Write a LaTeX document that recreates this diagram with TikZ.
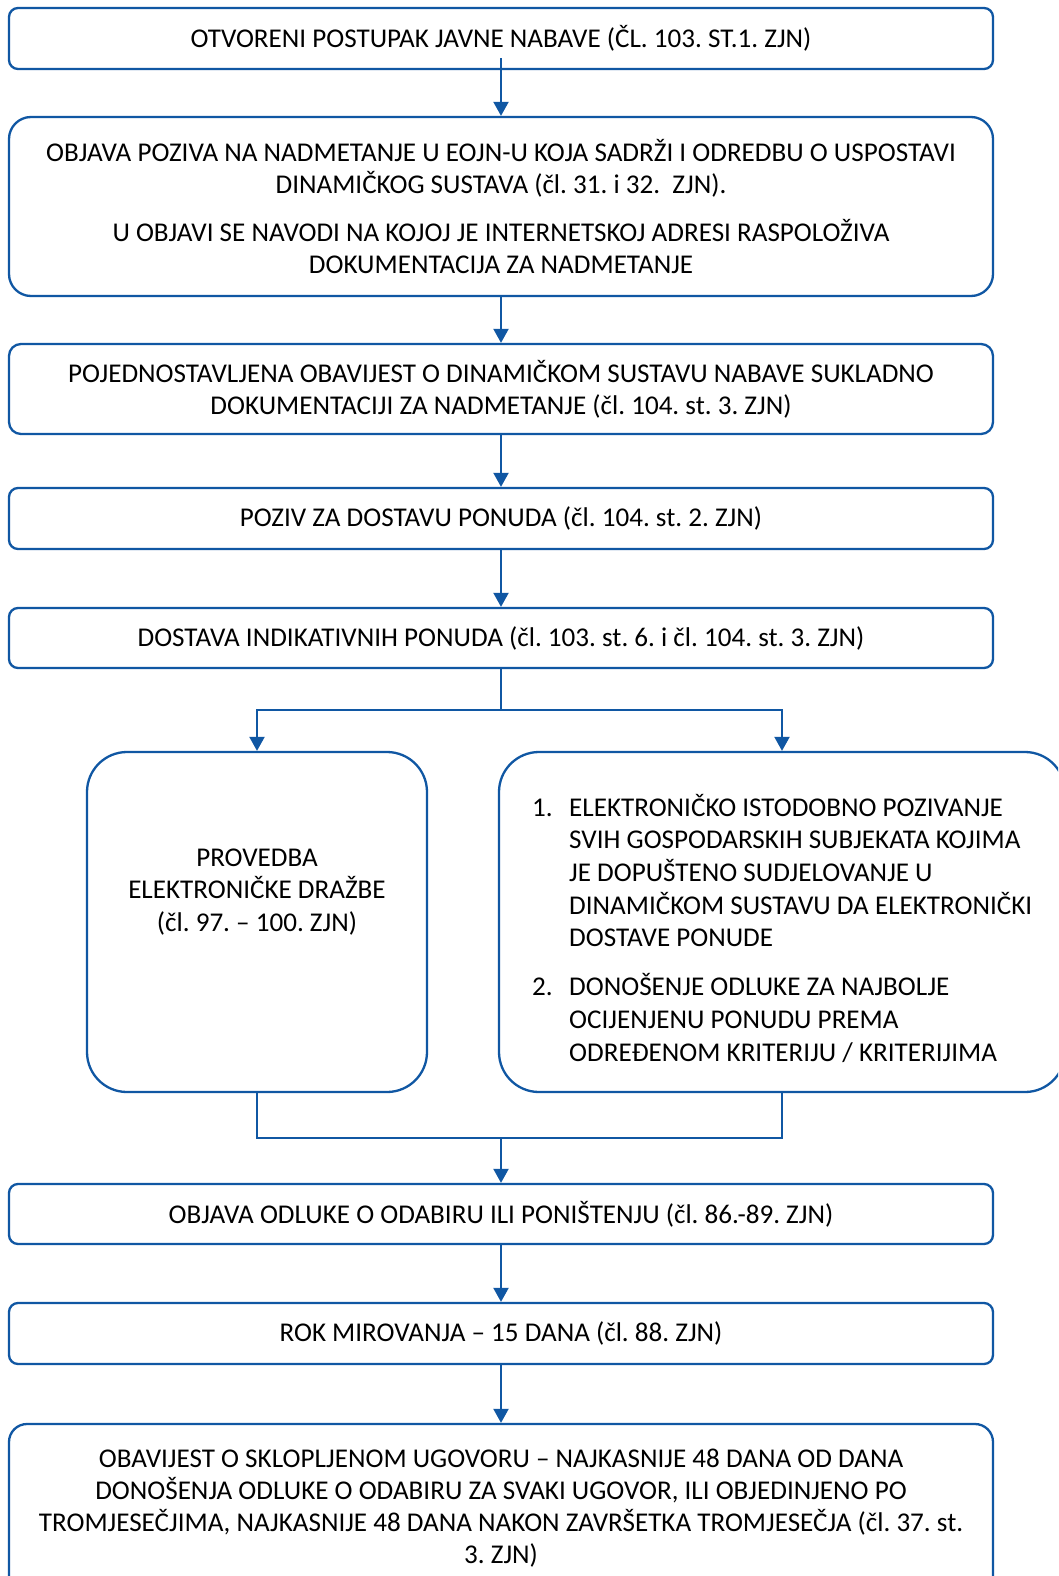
\documentclass[tikz,border=0pt]{standalone}
\usepackage{fontspec}
\setmainfont{Carlito}
\usetikzlibrary{arrows.meta,calc}
\definecolor{flowblue}{RGB}{16,87,163}
\newcommand{\flowfont}{\fontsize{27.1}{32.2}\selectfont\frenchspacing}
\newcommand{\listfont}{\fontsize{27.1}{32.7}\selectfont\frenchspacing}
\begin{document}
\begin{tikzpicture}[x=1pt,y=-1pt,
  box/.style={draw=flowblue, line width=2.3pt, fill=white, align=center,
    font=\flowfont, text=black, inner sep=0pt},
  txt/.style={align=center, font=\flowfont, text=black, inner sep=0pt},
  link/.style={draw=flowblue, line width=2.1pt},
  arr/.style={link, -{Triangle[length=14pt,width=15pt]}}]
\useasboundingbox (0,0) rectangle (1058,1576);
\fill[white] (0,0) rectangle (1058,1576);
\clip (0,0) rectangle (1058,1576);

% main column of steps
\node[box, minimum width=984pt, minimum height=61pt, rounded corners=9pt] (b1) at (501,38.5)
  {OTVORENI POSTUPAK JAVNE NABAVE (ČL. 103. ST.1. ZJN)};
\node[box, minimum width=984pt, minimum height=179pt, rounded corners=22pt] (b2) at (501,206.5)
  {OBJAVA POZIVA NA NADMETANJE U EOJN-U KOJA SADRŽI I ODREDBU O USPOSTAVI\\
   DINAMIČKOG SUSTAVA (čl. 31. i 32.\ \ ZJN).\\[16pt]
   U OBJAVI SE NAVODI NA KOJOJ JE INTERNETSKOJ ADRESI RASPOLOŽIVA\\
   DOKUMENTACIJA ZA NADMETANJE};
\node[box, minimum width=984pt, minimum height=90pt, rounded corners=12pt] (b3) at (501,389)
  {POJEDNOSTAVLJENA OBAVIJEST O DINAMIČKOM SUSTAVU NABAVE SUKLADNO\\
   DOKUMENTACIJI ZA NADMETANJE (čl. 104. st. 3. ZJN)};
\node[box, minimum width=984pt, minimum height=61pt, rounded corners=9pt] (b4) at (501,518.5)
  {POZIV ZA DOSTAVU PONUDA (čl. 104. st. 2. ZJN)};
\node[box, minimum width=984pt, minimum height=60pt, rounded corners=9pt] (b5) at (501,638)
  {DOSTAVA INDIKATIVNIH PONUDA (čl. 103. st. 6. i čl. 104. st. 3. ZJN)};

% two parallel branches
\node[box, minimum width=340pt, minimum height=340pt, rounded corners=40pt] (b6) at (257,922) {};
\node[txt] (t6) at (257,892)
  {PROVEDBA\\ ELEKTRONIČKE DRAŽBE\\ (čl. 97. – 100. ZJN)};
\node[box, minimum width=566pt, minimum height=340pt, rounded corners=40pt] (b7) at (782,922) {};
\node[txt, anchor=west, align=left, font=\listfont] (t7) at (532,932)
  {\renewcommand{\arraystretch}{1}%
   \begin{tabular}{@{}l@{}l@{}}
   \makebox[37pt][l]{1.} & ELEKTRONIČKO ISTODOBNO POZIVANJE\\
   & SVIH GOSPODARSKIH SUBJEKATA KOJIMA\\
   & JE DOPUŠTENO SUDJELOVANJE U\\
   & DINAMIČKOM SUSTAVU DA ELEKTRONIČKI\\
   & DOSTAVE PONUDE\\[16pt]
   \makebox[37pt][l]{2.} & DONOŠENJE ODLUKE ZA NAJBOLJE\\
   & OCIJENJENU PONUDU PREMA\\
   & ODREĐENOM KRITERIJU / KRITERIJIMA
   \end{tabular}};

% closing steps
\node[box, minimum width=984pt, minimum height=60pt, rounded corners=9pt] (b8) at (501,1214)
  {OBJAVA ODLUKE O ODABIRU ILI PONIŠTENJU (čl. 86.-89. ZJN)};
\node[box, minimum width=984pt, minimum height=61pt, rounded corners=9pt] (b9) at (501,1333.5)
  {ROK MIROVANJA – 15 DANA (čl. 88. ZJN)};
\node[box, minimum width=984pt, minimum height=190pt, rounded corners=18pt] (b10) at (501,1519) {};
\node[txt] (t10) at (501,1508)
  {OBAVIJEST O SKLOPLJENOM UGOVORU – NAJKASNIJE 48 DANA OD DANA\\
   DONOŠENJA ODLUKE O ODABIRU ZA SVAKI UGOVOR, ILI OBJEDINJENO PO\\
   TROMJESEČJIMA, NAJKASNIJE 48 DANA NAKON ZAVRŠETKA TROMJESEČJA (čl. 37. st.\\
   3. ZJN)};

% connectors
\coordinate (fork) at (501,710);
\coordinate (join) at (501,1138);
\draw[arr] ([yshift=12pt]b1.south) -- (b2.north);
\draw[arr] (b2.south) -- (b3.north);
\draw[arr] (b3.south) -- (b4.north);
\draw[arr] (b4.south) -- (b5.north);
\draw[link] (b5.south) -- (fork);
\draw[arr] (fork) -| (b6.north);
\draw[arr] (fork) -| (b7.north);
\draw[link] (b6.south) |- (join);
\draw[link] (b7.south) |- (join);
\draw[arr] (join) -- (b8.north);
\draw[arr] (b8.south) -- (b9.north);
\draw[arr] (b9.south) -- (b10.north);
\end{tikzpicture}
\end{document}
